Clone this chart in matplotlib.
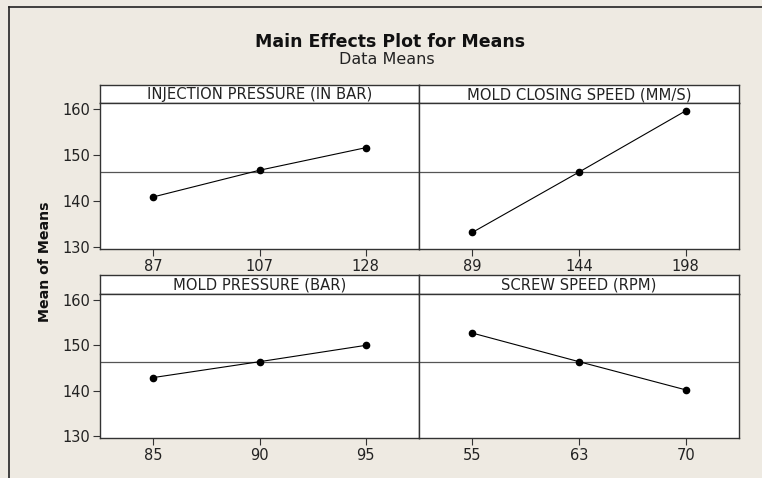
import matplotlib.pyplot as plt
from matplotlib.lines import Line2D

plt.rcParams["font.family"] = "DejaVu Sans"

W, H = 762, 478

# factor names, levels and the means at each level
factors = ["INJECTION PRESSURE (IN BAR)", "MOLD CLOSING SPEED (MM/S)",
           "MOLD PRESSURE (BAR)", "SCREW SPEED (RPM)"]
levels = [["87", "107", "128"], ["89", "144", "198"],
          ["85", "90", "95"], ["55", "63", "70"]]
means = [[140.9, 146.7, 151.6], [133.2, 146.3, 159.6],
         [142.9, 146.4, 150.0], [152.7, 146.4, 140.2]]
grand_mean = 146.4
yticks = [130, 140, 150, 160]

bg = "#EEEAE2"
fig = plt.figure(figsize=(W / 100, H / 100), dpi=100, facecolor=bg)

# frame around the figure: only top and left edges are in the crop
fx, fy = 9 / W, 1 - 7 / H
fig.add_artist(Line2D([fx, 1.0], [fy, fy], transform=fig.transFigure,
                      color="#222222", linewidth=1.2))
fig.add_artist(Line2D([fx, fx], [0.0, fy], transform=fig.transFigure,
                      color="#222222", linewidth=1.2))


def px_axes(x0, y0, x1, y1):
    # pixel box (top-left origin) -> figure axes
    return fig.add_axes([x0 / W, 1 - y1 / H, (x1 - x0) / W, (y1 - y0) / H])


cols = [(100, 419), (419, 739)]
rows = [(85, 103, 249), (275, 294, 438)]

for i in range(4):
    r, c = divmod(i, 2)
    x0, x1 = cols[c]
    st, top, bot = rows[r]

    # strip with factor name
    sax = px_axes(x0, st, x1, top)
    sax.set_xticks([])
    sax.set_yticks([])
    for s in sax.spines.values():
        s.set_color("#333333")
        s.set_linewidth(1.0)
    sax.text(0.5, 0.45, factors[i], ha="center", va="center", fontsize=10.6,
             color="#222222", transform=sax.transAxes)

    ax = px_axes(x0, top, x1, bot)
    ax.axhline(grand_mean, color="#555555", linewidth=0.9, zorder=1)
    ax.plot(range(3), means[i], color="black", linewidth=0.8, marker="o",
            markersize=4.5, zorder=3)
    ax.set_xlim(-0.5, 2.5)
    ax.set_ylim(129.6, 161.3)
    ax.set_xticks(range(3))
    ax.set_xticklabels(levels[i])
    ax.set_yticks(yticks)
    if c == 0:
        ax.set_yticklabels([str(v) for v in yticks])
    else:
        ax.tick_params(axis="y", left=False, labelleft=False)
    ax.tick_params(direction="out", length=5, width=0.8, color="#333333",
                   labelsize=10.5, labelcolor="#222222", pad=2)
    for s in ax.spines.values():
        s.set_color("#333333")
        s.set_linewidth(1.0)

fig.text(390 / W, 1 - 42 / H, "Main Effects Plot for Means", ha="center", va="center",
         fontsize=12.5, fontweight="bold", color="#111111")
fig.text(387 / W, 1 - 60 / H, "Data Means", ha="center", va="center",
         fontsize=11.5, color="#222222")
fig.text(45 / W, 1 - 262 / H, "Mean of Means", ha="center", va="center", rotation=90,
         fontsize=10.2, fontweight="bold", color="#111111")

fig.savefig("out.png", dpi=100, facecolor=bg)
